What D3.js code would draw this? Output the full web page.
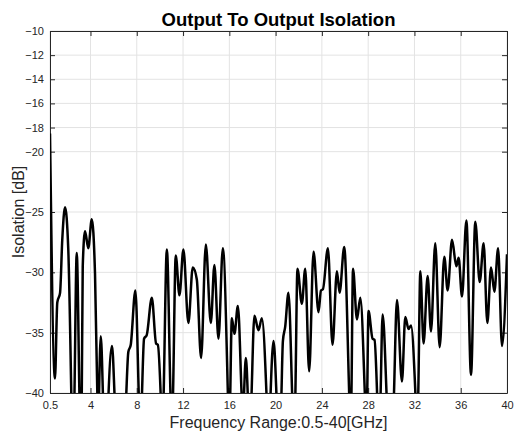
<!DOCTYPE html>
<html>
<head>
<meta charset="utf-8">
<script src="https://cdn.jsdelivr.net/npm/d3@7"></script>
<style>
  body { margin: 0; background: #fff; }
  svg { display: block; font-family: "Liberation Sans", Arial, sans-serif; }
</style>
</head>
<body>
<svg id="chart" width="514" height="434"></svg>
<script>
// frequency (GHz) and isolation (dB)
var freq = [0.50, 0.93, 1.13, 1.37, 1.56, 1.80, 2.08, 2.36, 2.48, 2.60, 2.81, 3.06, 3.15, 3.24, 3.33, 3.53, 3.81, 4.11, 4.39, 4.61,
            4.66, 4.72, 4.89, 5.10, 5.30, 5.52, 5.86, 6.12, 6.60, 7.05, 7.27, 7.48, 7.88, 8.20, 8.31, 8.42, 8.63, 8.86, 9.30, 9.67,
            9.82, 10.10, 10.20, 10.30, 10.60, 10.94, 11.02, 11.11, 11.37, 11.69, 12.03, 12.46, 12.84, 13.19, 13.56, 13.97, 14.40, 14.71, 15.06, 15.44,
            15.90, 15.98, 16.06, 16.22, 16.44, 16.74, 17.17, 17.43, 17.65, 17.77, 17.89, 18.17, 18.52, 18.81, 19.25, 19.40, 19.53, 19.82, 20.11, 20.30,
            20.48, 20.63, 20.83, 21.11, 21.46, 21.57, 21.69, 21.89, 22.27, 22.56, 22.90, 23.28, 23.71, 23.92, 24.09, 24.52, 24.92, 25.30, 25.53, 25.93,
            26.39, 26.46, 26.54, 26.69, 27.03, 27.32, 27.75, 27.83, 27.90, 28.03, 28.38, 28.55, 28.81, 28.93, 29.05, 29.25, 29.63, 29.90, 30.20, 30.49,
            30.92, 31.21, 31.49, 31.70, 32.13, 32.22, 32.31, 32.51, 32.79, 33.14, 33.43, 33.80, 34.18, 34.58, 34.87, 35.25, 35.62, 35.82, 36.11, 36.49,
            36.89, 37.26, 37.64, 37.98, 38.30, 38.62, 38.91, 39.23, 39.57, 40.00];
var isolation = [-18.5, -38.8, -32.5, -31.7, -27.3, -24.6, -28.1, -41, -47, -41, -28.4, -41, -45, -41, -29.5, -26.6, -28.0, -25.6, -30.1, -41,
                 -44, -41, -35.3, -41, -48, -41, -36.1, -41, -48, -41, -36.6, -36.0, -31.5, -41, -44, -41, -35.5, -35.2, -32.1, -35.9,
                 -36.0, -41, -44, -41, -28.1, -41, -43, -41, -28.6, -31.9, -28.1, -34.2, -29.6, -30.6, -37.1, -27.7, -34.2, -29.4, -35.5, -28.0,
                 -41, -44, -41, -33.8, -35.1, -32.8, -41.5, -37.1, -41.5, -44, -41, -33.6, -34.8, -33.8, -41, -45, -41, -35.7, -41, -46,
                 -41, -35.7, -34.5, -31.7, -41, -44, -41, -29.7, -32.6, -29.7, -38.2, -28.3, -33.3, -31.5, -31.4, -28.0, -36.0, -29.9, -31.7, -27.9,
                 -41, -43, -41, -29.7, -33.9, -32.1, -41, -43, -41, -33.2, -35.5, -35.6, -41, -44, -41, -33.5, -41, -47, -41, -32.3,
                 -39.05, -33.7, -34.7, -34.4, -41, -43, -41, -29.9, -35.9, -30.3, -34.9, -27.6, -36.2, -28.7, -31.5, -27.3, -29.5, -28.8, -32.0, -25.7,
                 -38.5, -25.8, -30.8, -27.6, -34.2, -29.6, -31.6, -28.0, -36.1, -28.5];

var xTicks = [0.5, 4, 8, 12, 16, 20, 24, 28, 32, 36, 40];
var yTicks = [-40, -35, -30, -25, -20, -18, -16, -14, -12, -10];

var cTitle = "Output To Output Isolation";
var xTitle = "Frequency Range:0.5-40[GHz]";
var yTitle = "Isolation [dB]";

var margin = {top: 31, right: 7, bottom: 41, left: 50};
var svg = d3.select("#chart"),
    width = 514 - margin.left - margin.right,
    height = 434 - margin.top - margin.bottom;

var data = freq.map(function(f, i) { return {f: f, v: isolation[i]}; });

var x = d3.scaleLinear().domain([0.5, 40]).range([0, width]);
var y = d3.scaleLinear().domain([-40, -10]).range([height, 0]);

var g = svg.append("g")
    .attr("transform", "translate(" + margin.left + "," + margin.top + ")");

svg.append("defs").append("clipPath")
    .attr("id", "plotclip")
    .append("rect")
    .attr("width", width)
    .attr("height", height);

// grid
g.append("g")
    .selectAll("line")
    .data(xTicks)
    .enter().append("line")
    .attr("x1", function(d) { return x(d); })
    .attr("x2", function(d) { return x(d); })
    .attr("y1", 0)
    .attr("y2", height)
    .attr("stroke", "#e3e3e3")
    .attr("stroke-width", 1);

g.append("g")
    .selectAll("line")
    .data(yTicks)
    .enter().append("line")
    .attr("x1", 0)
    .attr("x2", width)
    .attr("y1", function(d) { return y(d); })
    .attr("y2", function(d) { return y(d); })
    .attr("stroke", "#e3e3e3")
    .attr("stroke-width", 1);

// axes (ticks inside, matlab box)
var axColor = "#262626";
var xAxis = g.append("g")
    .attr("transform", "translate(0," + height + ")")
    .call(d3.axisBottom(x).tickValues(xTicks).tickFormat(d3.format("")).tickSizeInner(-5).tickSizeOuter(0).tickPadding(8));
var yAxis = g.append("g")
    .call(d3.axisLeft(y).tickValues(yTicks).tickSizeInner(-5).tickSizeOuter(0).tickPadding(6));
var xTop = g.append("g")
    .call(d3.axisTop(x).tickValues(xTicks).tickFormat("").tickSizeInner(-5).tickSizeOuter(0));
var yRight = g.append("g")
    .attr("transform", "translate(" + width + ",0)")
    .call(d3.axisRight(y).tickValues(yTicks).tickFormat("").tickSizeInner(-5).tickSizeOuter(0));

[xAxis, yAxis, xTop, yRight].forEach(function(a) {
    a.selectAll("path").attr("stroke", axColor);
    a.selectAll("line").attr("stroke", axColor);
    a.selectAll("text")
        .attr("fill", axColor)
        .style("font-size", "11px")
        .style("font-family", "Liberation Sans, Arial, sans-serif");
});

// the curve
var line = d3.line()
    .x(function(d) { return x(d.f); })
    .y(function(d) { return y(d.v); })
    .curve(d3.curveMonotoneX);

g.append("path")
    .datum(data)
    .attr("clip-path", "url(#plotclip)")
    .attr("fill", "none")
    .attr("stroke", "#000")
    .attr("stroke-width", 2.5)
    .attr("stroke-linejoin", "round")
    .attr("d", line);

// title
svg.append("text")
    .attr("x", margin.left + width / 2)
    .attr("y", 26)
    .attr("text-anchor", "middle")
    .style("font-size", "18.5px")
    .style("font-weight", "bold")
    .attr("fill", "#000")
    .text(cTitle);

// x label
svg.append("text")
    .attr("x", margin.left + width / 2)
    .attr("y", 428)
    .attr("text-anchor", "middle")
    .style("font-size", "16px")
    .attr("fill", axColor)
    .text(xTitle);

// y label
svg.append("text")
    .attr("transform", "rotate(-90)")
    .attr("x", -(margin.top + height / 2))
    .attr("y", 24)
    .attr("text-anchor", "middle")
    .style("font-size", "16px")
    .attr("fill", axColor)
    .text(yTitle);
</script>
</body>
</html>
